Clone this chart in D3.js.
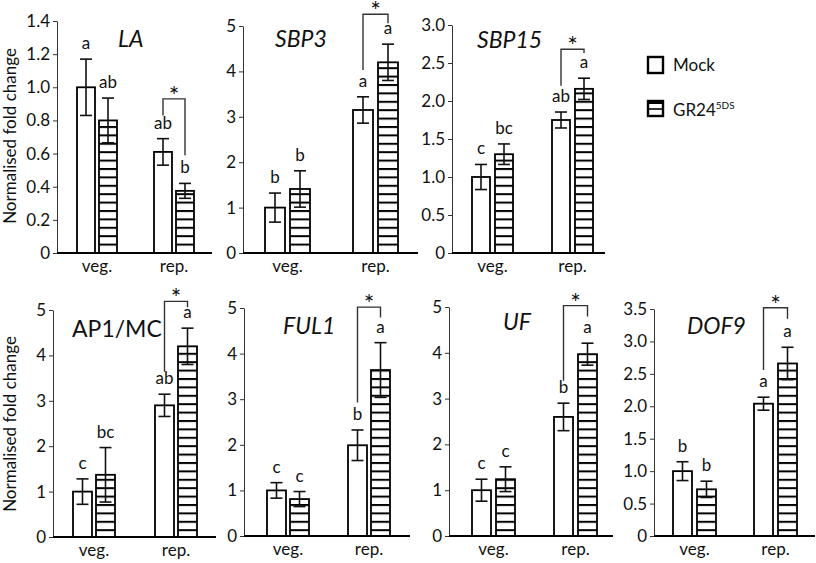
<!DOCTYPE html>
<html>
<head>
<meta charset="utf-8">
<script src="https://cdn.jsdelivr.net/npm/d3@7"></script>
<style>
  html, body { margin: 0; padding: 0; background: #fff; }
  svg { display: block; font-family: Lato, "Open Sans", sans-serif; }
</style>
</head>
<body>
<svg id="chart" width="816" height="563"></svg>
<script>
// ---------------- DATA ----------------
const genes = ["LA", "SBP3", "SBP15", "AP1/MC", "FUL1", "UF", "DOF9"];
const geneItalic = [true, true, true, false, true, true, true];
const categories = ["veg.", "rep."];
const treatments = ["Mock", "GR24"];
const yMax = [1.4, 5, 3, 5, 5, 5, 3.5];
const yTicks = [
  [0, 0.2, 0.4, 0.6, 0.8, 1.0, 1.2, 1.4],
  [0, 1, 2, 3, 4, 5],
  [0, 0.5, 1.0, 1.5, 2.0, 2.5, 3.0],
  [0, 1, 2, 3, 4, 5],
  [0, 1, 2, 3, 4, 5],
  [0, 1, 2, 3, 4, 5],
  [0, 0.5, 1.0, 1.5, 2.0, 2.5, 3.0, 3.5]
];
const tickDecimals = [1, 0, 1, 0, 0, 0, 1];
// [veg, rep]
const mockMean = [[1.0, 0.61], [1.0, 3.15], [1.0, 1.75], [1.0, 2.9], [1.0, 1.99], [1.0, 2.6], [1.0, 2.04]];
const mockErr  = [[0.17, 0.08], [0.32, 0.29], [0.165, 0.105], [0.28, 0.245], [0.17, 0.335], [0.24, 0.3], [0.145, 0.1]];
const grMean   = [[0.80, 0.375], [1.41, 4.2], [1.30, 2.16], [1.37, 4.2], [0.81, 3.64], [1.24, 3.97], [0.72, 2.66]];
const grErr    = [[0.135, 0.045], [0.4, 0.4], [0.135, 0.14], [0.6, 0.4], [0.165, 0.6], [0.27, 0.24], [0.125, 0.25]];
const mockLetters = [["a", "ab"], ["b", "a"], ["c", "ab"], ["c", "ab"], ["c", "b"], ["c", "b"], ["b", "a"]];
const grLetters   = [["ab", "b"], ["b", "a"], ["bc", "a"], ["bc", "a"], ["c", "a"], ["c", "a"], ["b", "a"]];
// significance bracket on "rep.": [top, left leg bottom, right leg bottom] in data units
const bracketValues = [[0.93, 0.83, 0.59], [5.26, 4.03, 5.06], [2.68, 2.2, 2.63], [5.19, 3.64, 5.06],
                       [5.02, 2.93, 4.79], [5.03, 3.39, 4.79], [3.52, 2.56, 3.35]];
const yAxisTitle = "Normalised fold change";
const legendLabels = ["Mock", "GR24"];
const legendSup = "5DS";

// ---------------- LAYOUT ----------------
const layout = [
  {left: 57,  right: 212, top: 21,  zero: 253, barW: 18, gap: 4, gStart: 20, gStep: 77, titleX: 118, titleY: 47},
  {left: 243, right: 418, top: 26,  zero: 253, barW: 20, gap: 5, gStart: 22, gStep: 88, titleX: 275, titleY: 47},
  {left: 452, right: 605, top: 25,  zero: 253, barW: 18, gap: 5, gStart: 20, gStep: 80, titleX: 477, titleY: 48},
  {left: 53,  right: 216, top: 310, zero: 537, barW: 19, gap: 4, gStart: 20, gStep: 82, titleX: 72,  titleY: 337},
  {left: 244, right: 410, top: 308, zero: 536, barW: 19, gap: 4, gStart: 23, gStep: 81, titleX: 283, titleY: 334},
  {left: 449, right: 613, top: 307, zero: 536, barW: 19, gap: 5, gStart: 23, gStep: 82, titleX: 503, titleY: 330},
  {left: 654, right: 815, top: 309, zero: 536, barW: 19, gap: 5, gStart: 19, gStep: 81, titleX: 687, titleY: 334}
];

const svg = d3.select("#chart");
const defs = svg.append("defs");
const pat = defs.append("pattern")
  .attr("id", "hatch").attr("patternUnits", "userSpaceOnUse")
  .attr("width", 10).attr("height", 8.4);
pat.append("rect").attr("width", 10).attr("height", 8.4).attr("fill", "#fff");
pat.append("line").attr("x1", 0).attr("x2", 10).attr("y1", 1).attr("y2", 1)
  .attr("stroke", "#000").attr("stroke-width", 2);

const textSize = 17;

genes.forEach((gene, i) => {
  const L = layout[i];
  const g = svg.append("g");
  const y = d3.scaleLinear().domain([0, yMax[i]]).range([L.zero, L.top]);
  const groupW = 2 * L.barW + L.gap;
  const x0 = d3.scaleBand().domain(categories)
    .range([L.left + L.gStart, L.left + L.gStart + L.gStep + groupW])
    .paddingInner(1 - groupW / L.gStep).paddingOuter(0);
  const x1 = d3.scaleBand().domain(treatments).range([0, groupW])
    .paddingInner(L.gap / (L.barW + L.gap)).paddingOuter(0);

  // y axis
  const fmt = d => d === 0 ? "0" : d3.format("." + tickDecimals[i] + "f")(d);
  const ax = g.append("g").attr("transform", `translate(${L.left},0)`)
    .call(d3.axisLeft(y).tickValues(yTicks[i]).tickFormat(fmt).tickSize(4).tickSizeOuter(0).tickPadding(3));
  ax.select(".domain").attr("stroke", "#333").attr("stroke-width", 1);
  ax.selectAll(".tick line").attr("stroke", "#333");
  ax.selectAll(".tick text").attr("font-size", textSize).attr("font-family", "Lato").attr("fill", "#111");

  // bars
  const rows = [];
  categories.forEach((c, ci) => {
    rows.push({cat: c, tr: "Mock", v: mockMean[i][ci], e: mockErr[i][ci], lab: mockLetters[i][ci]});
    rows.push({cat: c, tr: "GR24", v: grMean[i][ci], e: grErr[i][ci], lab: grLetters[i][ci]});
  });
  const bx = d => x0(d.cat) + x1(d.tr);
  g.selectAll("rect.bar").data(rows).join("rect").attr("class", "bar")
    .attr("x", bx).attr("width", x1.bandwidth())
    .attr("y", d => y(d.v)).attr("height", d => y(0) - y(d.v))
    .attr("fill", d => d.tr === "Mock" ? "#fff" : "url(#hatch)")
    .attr("stroke", "#000").attr("stroke-width", 1.8);

  // error bars
  const cap = 6;
  rows.forEach(d => {
    const cx = bx(d) + x1.bandwidth() / 2;
    const eg = g.append("g").attr("stroke", "#111").attr("stroke-width", 1.6);
    eg.append("line").attr("x1", cx).attr("x2", cx).attr("y1", y(d.v + d.e)).attr("y2", y(d.v - d.e));
    eg.append("line").attr("x1", cx - cap).attr("x2", cx + cap).attr("y1", y(d.v + d.e)).attr("y2", y(d.v + d.e));
    eg.append("line").attr("x1", cx - cap).attr("x2", cx + cap).attr("y1", y(d.v - d.e)).attr("y2", y(d.v - d.e));
    g.append("text").attr("x", cx).attr("y", y(d.v + d.e) - 10)
      .attr("text-anchor", "middle").attr("font-size", textSize).attr("fill", "#111").text(d.lab);
  });

  // x axis line
  g.append("line").attr("x1", L.left).attr("x2", L.right).attr("y1", L.zero).attr("y2", L.zero)
    .attr("stroke", "#000").attr("stroke-width", 2);
  // x labels
  categories.forEach(c => {
    g.append("text").attr("x", x0(c) + x0.bandwidth() / 2).attr("y", L.zero + 19)
      .attr("text-anchor", "middle").attr("font-size", textSize).attr("fill", "#111").text(c);
  });

  // bracket
  const bv = bracketValues[i];
  const lx = x0("rep.") + x1("Mock") + x1.bandwidth() / 2;
  const rx = x0("rep.") + x1("GR24") + x1.bandwidth() / 2;
  g.append("path")
    .attr("d", `M${lx},${y(bv[1])}V${y(bv[0])}H${rx}V${y(bv[2])}`)
    .attr("fill", "none").attr("stroke", "#333").attr("stroke-width", 1.4);
  g.append("text").attr("x", (lx + rx) / 2).attr("y", y(bv[0]) + 6)
    .attr("text-anchor", "middle").attr("font-size", 25).attr("fill", "#111").text("*");

  // title
  g.append("text").attr("x", L.titleX).attr("y", L.titleY)
    .attr("font-size", 23).attr("font-style", geneItalic[i] ? "italic" : "normal")
    .attr("fill", "#111").text(gene);
});

// y axis titles
[136, 424].forEach(cy => {
  svg.append("text").attr("transform", `translate(16,${cy}) rotate(-90)`)
    .attr("text-anchor", "middle").attr("font-size", 17).attr("fill", "#111").text(yAxisTitle);
});

// legend
const lg = svg.append("g");
lg.append("rect").attr("x", 648).attr("y", 57).attr("width", 15).attr("height", 16)
  .attr("fill", "#fff").attr("stroke", "#000").attr("stroke-width", 2.4);
lg.append("rect").attr("x", 648).attr("y", 101).attr("width", 15).attr("height", 15)
  .attr("fill", "#fff").attr("stroke", "#000").attr("stroke-width", 2.4);
lg.append("line").attr("x1", 648).attr("x2", 663).attr("y1", 103).attr("y2", 103).attr("stroke", "#000").attr("stroke-width", 2);
lg.append("line").attr("x1", 648).attr("x2", 663).attr("y1", 109).attr("y2", 109).attr("stroke", "#000").attr("stroke-width", 1.6);
lg.append("text").attr("x", 673).attr("y", 71).attr("font-size", 17).attr("fill", "#111").text(legendLabels[0]);
const t2 = lg.append("text").attr("x", 673).attr("y", 116).attr("font-size", 17).attr("fill", "#111");
t2.append("tspan").text(legendLabels[1]);
t2.append("tspan").attr("font-size", 10).attr("dy", -7).text(legendSup);
</script>
</body>
</html>
